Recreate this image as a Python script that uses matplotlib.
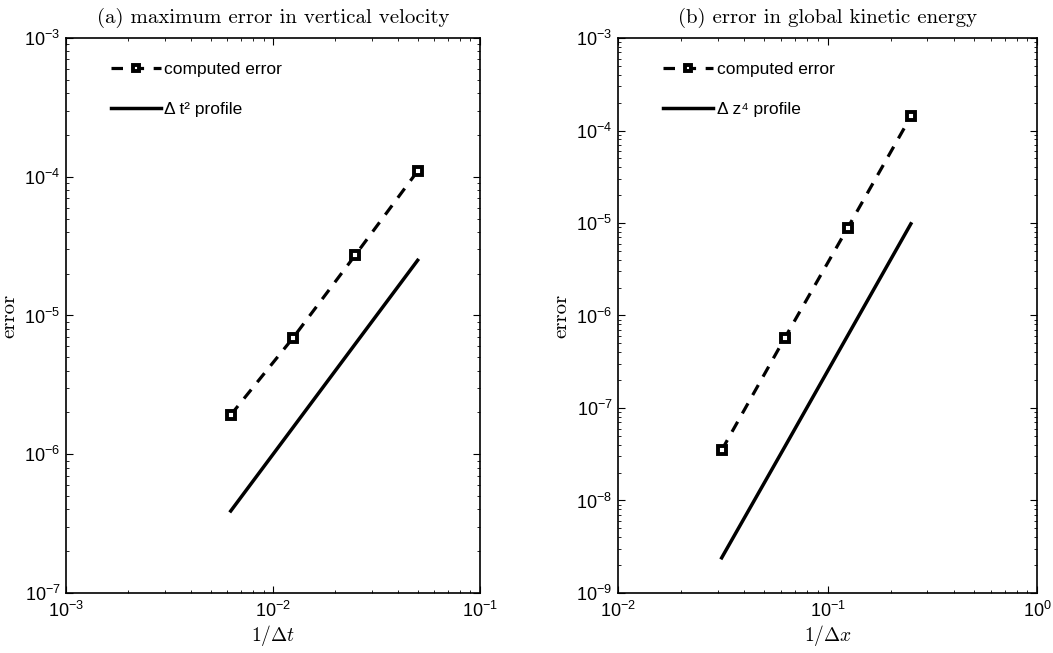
import matplotlib
matplotlib.use("Agg")
import matplotlib.pyplot as plt
from matplotlib.ticker import LogLocator, NullFormatter

plt.rcParams['font.family'] = ['Liberation Sans', 'DejaVu Sans']
plt.rcParams['mathtext.fontset'] = 'cm'

# Panel (a)
dt_x = [0.00625, 0.0125, 0.025, 0.05]
dt_err = [1.92e-6, 6.9e-6, 2.73e-5, 1.10e-4]
dt_prof = [3.9e-7, 1.56e-6, 6.25e-6, 2.5e-5]

# Panel (b)
dz_x = [0.03125, 0.0625, 0.125, 0.25]
dz_err = [3.5e-8, 5.7e-7, 8.9e-6, 1.42e-4]
dz_prof = [2.4e-9, 3.8e-8, 6.1e-7, 9.8e-6]

titles = ['(a) maximum error in vertical velocity', '(b) error in global kinetic energy']
xlabels = [r'$1/\Delta t$', r'$1/\Delta x$']
prof_labels = ['Δ t² profile', 'Δ z⁴ profile']
xlims = [(1e-3, 1e-1), (1e-2, 1e0)]
ylims = [(1e-7, 1e-3), (1e-9, 1e-3)]

fig = plt.figure(figsize=(10.53, 6.53), dpi=100)
positions = [[0.0627, 0.0919, 0.3931, 0.8499], [0.5869, 0.0919, 0.3979, 0.8499]]

data = [(dt_x, dt_err, dt_prof), (dz_x, dz_err, dz_prof)]
for i in range(2):
    ax = fig.add_axes(positions[i])
    x, err, prof = data[i]
    ax.plot(x, err, color='black', linestyle=(0, (3.6, 3.0)), lw=2.3, marker='s', ms=5.5,
            mfc='white', mec='black', mew=2.8, label='computed error')
    ax.plot(x, prof, color='black', lw=2.5, label=prof_labels[i])
    ax.set_xscale('log')
    ax.set_yscale('log')
    ax.set_xlim(*xlims[i])
    ax.set_ylim(*ylims[i])
    ax.xaxis.set_major_locator(LogLocator(base=10, numticks=10))
    ax.yaxis.set_major_locator(LogLocator(base=10, numticks=12))
    ax.xaxis.set_minor_locator(LogLocator(base=10, subs=range(2, 10), numticks=12))
    ax.yaxis.set_minor_locator(LogLocator(base=10, subs=range(2, 10), numticks=12))
    ax.xaxis.set_minor_formatter(NullFormatter())
    ax.yaxis.set_minor_formatter(NullFormatter())
    ax.tick_params(which='both', direction='in', top=True, right=True, labelsize=13)
    ax.tick_params(which='major', length=5, width=0.8)
    ax.tick_params(which='minor', length=2.5, width=0.6)
    ax.tick_params(axis='x', pad=6)
    ax.tick_params(axis='y', pad=4)
    for s in ax.spines.values():
        s.set_linewidth(1.2)
    ax.set_title(titles[i], family='cmr10', fontsize=15, pad=11)
    ax.set_xlabel(xlabels[i], fontsize=14, labelpad=1)
    ax.set_ylabel('error', family='cmr10', fontsize=15, labelpad=4)
    ax.legend(loc='upper left', frameon=False, fontsize=12.5, numpoints=1, markerscale=0.8,
              handlelength=2.9, handletextpad=0.2, labelspacing=1.45,
              bbox_to_anchor=(0.07, 0.985))

fig.savefig('out.png', dpi=100)
